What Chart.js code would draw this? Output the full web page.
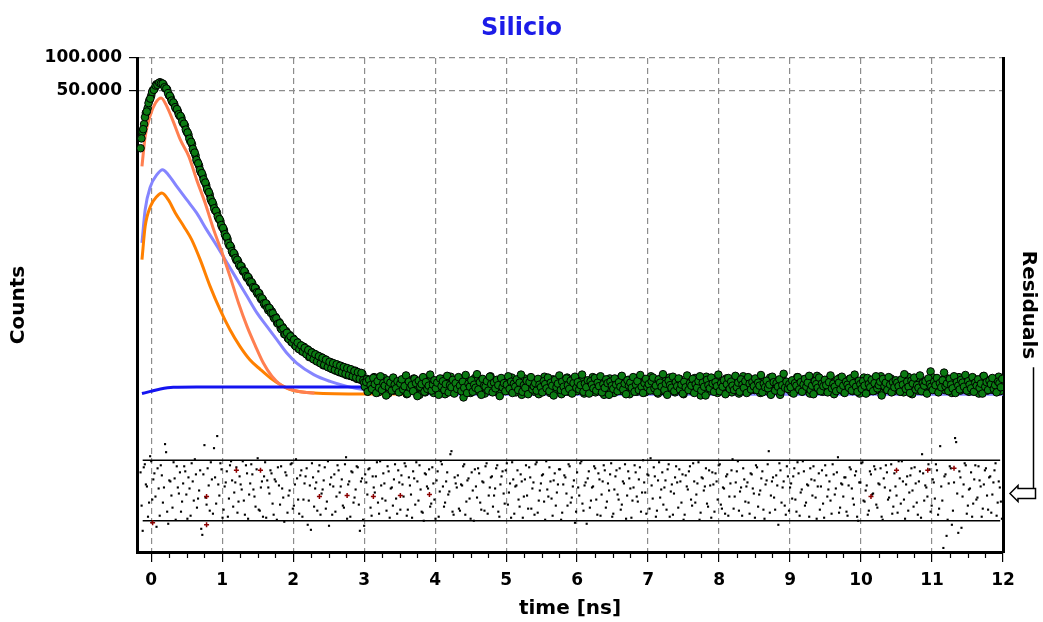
<!DOCTYPE html>
<html>
<head>
<meta charset="utf-8">
<title>Silicio</title>
<script src="https://cdn.jsdelivr.net/npm/chart.js@4"></script>
<style>
  html, body { margin: 0; padding: 0; background: #fff; }
  #wrap { width: 1043px; height: 622px; }
</style>
</head>
<body>
<div id="wrap"><canvas id="decayChart" width="1043" height="622"></canvas></div>
<script>
// ==========================================
// Silicio - fluorescence decay fit (Chart.js)
// ==========================================

// Axis ranges / ticks
const xTickValues = [0, 1, 2, 3, 4, 5, 6, 7, 8, 9, 10, 11, 12];
const xMinorStep = 0.25;
const xMin = -0.2;
const xMax = 12;
const yTickValues = [50000, 100000];
const yMin = 2.56;
const yMax = 100000;
const resMin = -6.1;
const resMax = 42.9;

// Measured counts, decay part: even channels (every 0.025 ns from -0.15 ns)
const decayStart = -0.15;
const decayStep = 0.025;
const decayCounts = [
  14500, 20600, 24300, 30900, 34200, 40700, 44600, 50300, 52200, 57100,
  57000, 59500, 58100, 56400, 52000, 50900, 45000, 42800, 38900, 37300,
  33700, 32100, 29000, 27900, 24800, 23600, 20600, 19400, 16900, 15800,
  13600, 12400, 10800, 9950, 8680, 8090, 7130, 6590, 5800, 5360,
  4660, 4350, 3830, 3660, 3210, 3050, 2680, 2510, 2190, 2080,
  1810, 1740, 1530, 1490, 1320, 1290, 1160, 1150, 1030, 1010,
  905, 900, 812, 801, 718, 722, 641, 645, 572, 566,
  507, 516, 452, 463, 441, 389, 392, 344, 351, 307,
  316, 271, 289, 249, 266, 229, 247, 213, 230, 199,
  214, 188, 207, 180, 196, 166, 186, 161, 178, 153,
  171, 147, 165, 139, 158, 151, 133, 149, 128, 144,
  124, 141, 120, 137, 117, 133, 113, 129, 111, 126,
  108, 124, 104, 119, 102, 116
];
// odd channels (half a step later)
const decayCountsOdd = [
  17900, 21800, 28200, 31800, 38100, 41900, 48300, 50600, 55400, 56300,
  58900, 57900, 57800, 53500, 52100, 47200, 44500, 40200, 38600, 34900,
  33500, 30000, 28900, 25800, 24500, 21600, 20300, 17800, 16600, 14300,
  13200, 11300, 10500, 9120, 8510, 7450, 6950, 6060, 5660, 4900,
  4570, 4010, 3800, 3370, 3180, 2800, 2630, 2300, 2180, 1900,
  1800, 1600, 1540, 1380, 1330, 1200, 1170, 1060, 1045, 940,
  925, 838, 825, 741, 731, 664, 658, 594, 583, 524,
  525, 474, 476, 426, 424, 378, 381, 339, 342, 300,
  306, 270, 279, 244, 259, 226, 241, 209, 226, 196,
  213, 186, 202, 176, 193, 167, 183, 158, 176, 151,
  169, 145, 163, 140, 157, 134, 150, 130, 146, 126,
  142, 122, 138, 119, 134, 116, 131, 113, 128, 110,
  123, 107, 120, 104, 118, 101
];

// Measured counts, background part: every 0.02 ns from 3 ns, plus the channels in between
const tailStart = 3.0;
const tailStep = 0.02;
const tailCounts = [
  96, 88, 104, 80, 91, 99, 83, 108, 87, 93, 78, 101, 89, 85, 106, 82, 94, 76, 98, 90, 103, 81, 87, 95, 84,
  79, 100, 92, 86, 107, 75, 89, 97, 83, 91, 105, 80, 94, 87, 74, 99, 85, 102, 78, 90, 96, 82, 106, 88, 77,
  93, 84, 101, 89, 80, 104, 86, 75, 95, 91, 82, 109, 87, 78, 98, 92, 84, 103, 81, 89, 70, 96, 85, 100, 90,
  77, 94, 88, 106, 83, 91, 79, 97, 86, 102, 76, 90, 95, 84, 110, 88, 80, 93, 99, 85, 76, 92, 104, 87, 82,
  98, 89, 81, 95, 107, 84, 90, 78, 101, 87, 93, 74, 89, 105, 83, 96, 80, 91, 86, 102, 79, 94, 88, 75, 99,
  85, 92, 109, 82, 89, 97, 77, 91, 103, 86, 81, 94, 88, 100, 75, 90, 96, 84, 107, 79, 92, 87, 101, 83, 89,
  80, 98, 91, 85, 104, 76, 93, 88, 82, 99, 90, 108, 84, 78, 95, 87, 102, 81, 91, 74, 97, 86, 92, 105, 83,
  89, 77, 100, 94, 86, 91, 108, 80, 88, 96, 83, 102, 75, 90, 98, 85, 93, 79, 106, 87, 82, 95, 89, 78, 101,
  92, 84, 110, 87, 81, 97, 90, 76, 103, 88, 94, 80, 99, 85, 91, 107, 82, 89, 96, 78, 93, 86, 104, 83, 90,
  75, 98, 89, 93, 84, 101, 80, 88, 106, 82, 95, 87, 73, 91, 100, 85, 109, 79, 92, 88, 97, 83, 90, 103, 77,
  94, 86, 91, 99, 81, 105, 88, 84, 96, 78, 92, 102, 85, 89, 76, 98, 90, 110, 83, 87, 95, 80, 101, 91, 86,
  82, 97, 89, 104, 77, 93, 88, 100, 84, 91, 79, 107, 86, 95, 81, 90, 98, 85, 74, 92, 102, 87, 89, 96, 83,
  91, 78, 99, 86, 94, 108, 82, 89, 97, 80, 103, 85, 92, 88, 76, 101, 90, 84, 95, 111, 81, 87, 93, 79, 98,
  86, 102, 89, 81, 96, 91, 75, 100, 87, 93, 106, 83, 90, 78, 97, 85, 92, 104, 88, 80, 94, 99, 82, 91, 76,
  95, 88, 107, 84, 90, 79, 98, 92, 85, 103, 81, 89, 96, 87, 110, 77, 93, 86, 100, 82, 91, 105, 88, 80, 94,
  89, 83, 97, 91, 102, 78, 86, 94, 109, 85, 90, 75, 99, 88, 92, 81, 104, 87, 95, 83, 79, 101, 90, 96, 122,
  92, 107, 84, 89, 80, 98, 93, 87, 102, 82, 96, 105, 88, 94, 77, 91, 100, 86, 89, 108, 81, 95, 92, 84, 103,
  87, 79, 96, 91, 106, 83, 98, 89, 76, 93, 85, 110, 90, 94, 81, 99, 88, 104, 82, 92, 97, 86, 109, 80, 91,
  95
];
const tailCountsOdd = [
  88, 97, 79, 102, 91, 84, 106, 93, 77, 99, 86, 110, 82, 95, 90, 73, 101, 87, 96, 81, 107, 92, 85, 99, 78,
  94, 103, 83, 89, 112, 76, 98, 86, 91, 80, 104, 95, 72, 100, 88, 93, 108, 79, 97, 84, 90, 114, 81, 92, 101,
  85, 96, 74, 105, 89, 99, 82, 93, 111, 78, 91, 87, 102, 76, 95, 84, 108, 90, 80, 98, 86, 113, 77, 94, 88,
  101, 79, 92, 86, 115, 83, 97, 74, 104, 90, 88, 99, 81, 109, 93, 78, 96, 85, 102, 91, 72, 106, 87, 95, 80,
  92, 110, 84, 98, 77, 94, 88, 103, 82, 96, 114, 79, 91, 86, 100, 75, 97, 108, 83, 89, 95, 81, 104, 92, 87,
  78, 99, 93, 85, 107, 80, 96, 90, 73, 102, 87, 94, 112, 82, 98, 88, 79, 105, 91, 84, 100, 76, 95, 109, 86,
  97, 83, 91, 114, 79, 94, 87, 101, 76, 99, 92, 85, 106, 81, 96, 89, 110, 78, 93, 86, 103, 95, 74, 98, 90,
  84, 105, 92, 80, 97, 88, 111, 83, 94, 75, 101, 90, 96, 86, 108, 79, 92, 99, 82, 113, 88, 77, 95, 104, 87,
  93, 81, 99, 107, 85, 90, 78, 103, 96, 88, 115, 82, 94, 74, 100, 91, 86, 109, 80, 97, 89, 105, 83, 92, 76,
  98, 87, 112, 82, 95, 90, 104, 77, 93, 86, 99, 110, 81, 96, 88, 73, 102, 91, 85, 107, 94, 79, 97, 89, 114,
  80, 95, 88, 101, 75, 93, 106, 84, 98, 90, 82, 111, 87, 96, 79, 103, 92, 86, 99, 77, 108, 94, 83, 97, 89,
  105, 82, 96, 90, 113, 78, 94, 87, 100, 85, 92, 74, 109, 97, 81, 95, 88, 103, 79, 91, 116, 86, 98, 84, 93,
  87, 101, 76, 95, 90, 108, 83, 97, 79, 92, 104, 88, 96, 111, 82, 90, 75, 99, 93, 86, 107, 80, 94, 89, 102,
  91, 78, 97, 112, 85, 94, 88, 80, 103, 96, 83, 109, 90, 77, 98, 92, 86, 105, 81, 95, 114, 88, 79, 100, 93,
  84, 99, 90, 76, 106, 93, 87, 102, 80, 95, 110, 85, 91, 98, 73, 104, 89, 96, 82, 108, 92, 78, 97, 87, 101,
  96, 89, 79, 103, 92, 115, 84, 98, 88, 77, 100, 94, 107, 83, 91, 86, 112, 80, 95, 90, 99, 76, 105, 93, 88,
  82, 98, 91, 106, 78, 95, 87, 101, 119, 89, 94, 80, 104, 92, 85, 110, 77, 97, 90, 83, 102, 96, 88, 113, 81,
  99, 92, 85, 108, 79, 96, 90, 103, 86, 94, 76, 111, 88, 97, 82, 100, 93, 106, 84, 91, 78, 98, 95, 87, 104
];

// Fit components
const coralTimes = [-0.13, -0.085, -0.01, 0.06, 0.14, 0.22, 0.31, 0.41, 0.53, 0.64, 0.76, 0.88, 1.0, 1.11, 1.23, 1.35, 1.47, 1.58, 1.70, 1.82, 1.96, 2.1, 2.3];
const coralCounts = [9830, 18670, 29700, 38200, 42500, 35500, 25750, 17400, 12180, 7400, 4490, 2540, 1540, 934, 528, 320, 209, 146, 110, 92, 83, 79, 77];

const orangeTimes = [-0.13, -0.085, -0.01, 0.08, 0.15, 0.24, 0.34, 0.46, 0.57, 0.69, 0.83, 0.97, 1.11, 1.25, 1.39, 1.54, 1.68, 1.82, 1.96, 2.29, 3.0, 3.65];
const orangeCounts = [1335, 2720, 4180, 5170, 5560, 4820, 3630, 2720, 2050, 1335, 754, 458, 298, 209, 157, 127, 106, 92, 83, 77, 75.4, 75.4];

const lavenderTimes = [-0.13, -0.085, -0.01, 0.08, 0.16, 0.24, 0.36, 0.50, 0.64, 0.78, 0.93, 1.07, 1.21, 1.35, 1.49, 1.63, 1.77, 1.91, 2.05, 2.29, 2.52, 2.76, 2.99, 3.5, 5, 8, 12];
const lavenderCounts = [1910, 3890, 6410, 8230, 9160, 8230, 6410, 4820, 3630, 2540, 1775, 1245, 871, 609, 427, 320, 241, 181, 146, 114, 98.6, 88.7, 82.7, 77, 75, 75, 75];

const blueTimes = [-0.13, -0.01, 0.13, 0.31, 0.64, 1.5, 3, 6, 9, 12];
const blueCounts = [76, 79.7, 83.9, 87, 87.6, 87.6, 87.3, 87.3, 87.3, 87.3];

// Weighted residuals: every 0.03 ns from -0.15 ns, plus the channels in between
const residualStart = -0.15;
const residualStep = 0.03;
const residuals = [
  1.8, -4.0, 2.6, 0.4, -1.2, 2.9, 1.1, -0.6, 2.2, -2.5, 1.5, 0.3, 3.8, -3.3, 0.9,
  -1.7, 1.2, 2.4, -0.3, -2.1, 0.7, 1.9, -2.8, 0.2, 2.7, -1.0, 1.6, -0.8, 2.0, -4.4,
  4.5, -1.4, 0.5, 2.8, -2.3, 1.3, 5.4, -0.5, 2.1, -1.9, 0.8, -2.6, 2.5, 1.0, -0.2,
  2.3, -1.1, 0.6, 2.9, -2.4, 1.7, -0.4, 2.6, 0.1, -1.6, 3.2, -2.0, 0.9, 1.4, -2.7,
  0.3, 2.0, -1.3, 1.1, -2.9, 0.5, 2.4, -0.7, 1.8, -2.2, 0.0, 2.7, -1.5, 3.1, -0.9,
  1.5, -2.6, 0.7, 2.2, -1.0, -3.9, 1.3, 0.2, -2.0, 2.5, -0.3, 1.0, -1.8, 2.9, 0.6,
  -2.4, 1.6, -0.6, 2.0, 0.4, -1.5, 2.6, -2.8, 0.9, 1.9, -1.2, 0.1, 2.3, -4.0, 1.2,
  -3.5, 0.8, 2.1, -1.7, 1.4, -0.2, 2.8, -2.3, 0.5, 1.7, -1.0, 2.4, -2.7, 0.3, 1.1,
  -0.8, 2.0, -1.9, 0.6, 2.7, -2.5, 1.3, -0.4, 1.9, -1.4, 0.9, 2.5, -2.1, -3.0, 1.6,
  0.2, -1.6, 2.3, -0.9, 1.0, -2.6, 2.9, 0.4, -1.2, 1.8, -0.1, 3.9, -2.4, 0.7, 1.5,
  -2.0, 0.5, 2.6, -1.1, 1.2, -2.8, 0.0, 2.1, -0.7, 1.7, -1.9, 0.8, 2.4, -2.3, 0.3,
  1.4, -0.5, 2.2, -2.1, 0.6, 1.9, -1.3, 2.7, -0.2, -2.7, 1.1, 0.4, 2.0, -1.6, 0.9,
  -0.6, 2.5, -1.8, 1.3, 0.2, -2.4, 2.8, -1.0, 0.7, 1.6, -2.9, 0.1, 2.3, -0.8, 1.0,
  -1.5, 0.6, 2.1, -2.2, 1.5, -0.3, 2.6, -1.2, 0.4, -3.2, 1.8, -0.5, 2.9, -2.0, 0.8,
  1.2, -1.7, 0.3, 2.4, -0.9, 1.7, -2.5, 0.9, 2.0, -1.1, 0.0, 2.7, -2.3, 1.4, -0.4,
  2.2, -1.4, 0.7, -2.8, 1.9, 0.2, -1.0, 2.5, -0.6, 1.1, -2.1, 3.0, -0.2, 1.6, -1.8,
  0.5, 2.3, -2.6, 1.0, -0.7, 1.8, 0.3, -1.9, 2.6, -0.1, -2.4, 1.3, 0.8, 2.1, -1.2,
  -2.9, 1.5, 0.1, 2.4, -1.5, 0.9, -0.4, 2.8, -2.2, 1.2, 0.4, -1.3, 2.0, -2.7, 0.6,
  1.7, -0.9, 2.6, -1.8, 0.2, 1.4, -2.5, 0.7, 3.1, -0.6, 1.9, -2.0, 0.3, 2.2, -1.1,
  0.8, -2.3, 1.6, -0.3, 2.5, -1.6, 0.0, 1.9, -2.8, 1.0, 3.9, -0.5, 1.3, -1.9, 0.5,
  2.7, -1.2, 0.9, -2.4, 1.4, 0.3, -0.8, 2.2, -2.1, 1.7, -0.2, 2.9, -1.5, 0.6, -2.6,
  1.1, 2.4, -0.7, 0.4, -1.9, 2.0, -2.7, 1.5, 0.1, -1.0, 2.6, -0.4, 1.8, -2.2, 0.7,
  -0.6, 1.3, -2.5, 2.3, 0.2, -1.4, 1.9, -3.0, 0.8, 2.8, -1.1, 0.5, -2.0, 1.6, -0.3,
  2.1, -1.7, 0.6, -2.6, 1.2, 2.5, -0.9, 0.0, -2.3, 1.7, -0.5, 2.9, -1.3, 0.9, -2.8,
  1.4, -0.2, 2.2, -1.6, 0.7, -2.4, 1.9, 3.6, -1.0, 0.3, 2.6, -2.1, 1.1, -0.8, 2.0,
  -1.8, 0.4, -5.7, 1.6, -2.9, 2.4, -3.4, 0.8, 4.8, -4.2, 1.3, -0.6, 2.7, -2.3, 0.1,
  1.8, -1.3, 2.5, -0.7, 1.0, -2.6, 0.6, 2.2, -1.9, 1.4, -0.4, 2.0, -2.5, 0.9, -1.1
];
const residualsOdd = [
  -1.5, 2.3, 0.6, -2.6, 3.4, -0.9, 1.7, -3.6, 0.2, 2.5, -1.2, 4.6, -2.1, 1.0, -0.5,
  2.8, -2.9, 0.3, 1.8, -1.1, 2.4, -0.4, 1.3, -2.5, 0.9, 3.1, -1.7, 0.0, -3.8, 1.6,
  -0.7, 2.2, -2.0, 1.1, 4.2, -1.3, 0.6, 2.7, -2.7, 0.4, 1.9, -0.8, 2.9, -1.6, 0.8,
  -2.2, 1.4, 0.1, -1.0, 2.5, -2.8, 0.7, 1.6, -0.6, 2.1, -1.9, 0.3, -2.6, 2.8, 1.0,
  -0.3, 1.7, -2.4, 0.9, 2.3, -1.4, 0.2, -3.1, 1.5, -0.5, 2.6, -1.8, 0.6, 1.2, -2.3,
  2.0, -0.9, 1.4, -3.4, 0.5, 2.7, -1.6, 0.8, 1.9, -2.4, 0.1, 2.3, -1.1, -3.5, 1.3,
  0.4, -2.1, 2.5, -0.2, 1.1, -1.7, 3.3, 0.6, -2.6, 1.8, -0.7, 2.4, -1.4, 0.9, -2.9,
  1.6, -0.4, 2.2, -2.5, 0.3, 1.4, -1.2, 2.9, -0.8, 0.7, -2.0, 1.9, 0.2, -1.5, 2.6,
  -2.3, 0.8, 1.5, -0.6, 2.4, -1.9, 0.5, -2.7, 1.2, 2.8, -1.0, 0.1, -2.2, 1.7, 0.4,
  2.1, -1.3, 0.7, -2.8, 1.9, -0.1, 2.6, -1.6, 0.9, -0.4, 3.6, -2.1, 1.3, 0.3, -1.8,
  0.6, 2.4, -2.4, 1.0, -0.8, 1.8, -3.0, 0.4, 2.2, -1.2, 0.9, -2.0, 2.7, -0.5, 1.3,
  -1.6, 0.2, 2.5, -2.6, 1.4, -0.3, 2.0, -1.4, 0.7, 2.8, -2.3, 0.5, -0.9, 1.6, -2.7,
  1.1, -0.5, 2.3, -1.8, 0.8, 2.6, -2.2, 0.0, 1.5, -1.1, 2.9, -0.6, 0.9, -2.5, 1.7,
  -0.2, 2.1, -2.9, 0.6, 1.3, -1.5, 2.4, -0.7, 1.0, -2.1, 0.3, 2.7, -1.3, 0.5, -3.3,
  1.9, -1.0, 0.4, 2.2, -2.4, 1.1, -0.4, 2.5, -1.7, 0.7, 1.6, -2.6, 0.1, 2.0, -0.9,
  -1.9, 0.9, 2.6, -0.5, 1.2, -2.7, 0.3, 1.8, -1.1, 2.3, -0.2, 0.8, -2.3, 1.5, 3.2,
  -0.8, 1.4, -2.0, 2.8, 0.1, -1.4, 1.0, 2.1, -2.6, 0.6, -0.3, 2.4, -1.7, 0.9, 1.6,
  -2.4, 0.4, 1.9, -0.9, 2.7, -1.2, 0.7, -2.9, 1.3, 0.0, 2.2, -1.6, 0.5, 1.8, -2.1,
  0.9, 2.5, -1.4, 0.3, -2.3, 1.6, -0.6, 2.0, -1.8, 0.8, 2.9, -0.1, -2.5, 1.1, 0.4,
  -1.2, 1.7, 0.2, -2.7, 2.3, -0.4, 1.2, -1.9, 0.6, 2.6, -2.2, 0.9, -0.7, 1.5, -3.4,
  2.0, 0.3, -1.5, 2.4, -2.0, 0.7, 1.4, -0.9, 2.8, -2.5, 0.1, 1.9, -1.2, 0.5, 2.2,
  -0.5, 1.0, -2.8, 1.7, 0.4, -1.3, 2.5, -0.6, 0.9, -2.3, 1.6, 0.2, 3.3, -1.7, 0.6,
  1.3, -2.1, 0.5, 2.1, -0.8, 1.5, -2.6, 0.8, 2.7, -1.0, 0.0, -2.4, 1.9, -0.4, 2.4,
  -1.4, 0.7, 2.2, -2.9, 0.3, 1.8, -0.7, 2.6, -1.6, 0.4, -2.2, 1.2, 2.9, -0.9, 0.6,
  -2.0, 1.5, 0.0, 2.3, -1.2, 0.9, -2.7, 1.7, 0.5, -0.6, 2.1, -1.5, 0.8, 2.6, -2.4,
  4.4, -1.0, 1.4, -4.5, 0.7, 2.2, -2.0, 5.2, -0.3, 1.9, -3.7, 0.6, 2.5, -1.5, 0.2,
  -2.6, 1.1, -0.9, 2.4, 0.4, -1.8, 2.0, -0.5, 1.3, -2.2, 0.8, 2.7, -1.2, 0.3, -2.8
];

// A few residuals flagged in dark red
const flaggedTimes = [0.02, 0.78, 0.78, 1.20, 1.54, 2.37, 2.76, 3.13, 3.51, 3.92, 10.14, 10.5, 10.94, 11.31];
const flaggedValues = [-3.2, -0.6, -3.4, 2.0, 2.0, -0.6, -0.5, -0.6, -0.5, -0.4, -0.6, 2.0, 2.0, 2.2];

// Residual band limits
const residualLimit = 3;
const residualBandFrom = -0.12;
const residualBandTo = 11.96;

// ==========================================
// Helpers
// ==========================================
const FONT = "'DejaVu Sans', 'Liberation Sans', sans-serif";

const pairs = (xs, ys) => xs.map((x, i) => ({ x, y: ys[i] }));
const channels = (start, step, values) => values.map((v, i) => ({ x: start + i * step, y: v }));

function formatCounts(v) {
  return String(Math.round(v)).replace(/\B(?=(\d{3})+(?!\d))/g, '.');
}

const measured = [].concat(
  channels(decayStart, decayStep, decayCounts),
  channels(decayStart + decayStep / 2, decayStep, decayCountsOdd),
  channels(tailStart, tailStep, tailCounts),
  channels(tailStart + tailStep / 2, tailStep, tailCountsOdd)
);
const residualPoints = [].concat(
  channels(residualStart, residualStep, residuals),
  channels(residualStart + residualStep / 2, residualStep, residualsOdd)
);

// minor x ticks + "Residuals" arrow
const decorPlugin = {
  id: 'decor',
  afterDraw(chart) {
    const { ctx, chartArea, scales } = chart;
    const xs = scales.x;
    ctx.save();

    // minor ticks below the time axis
    ctx.strokeStyle = '#000';
    ctx.lineWidth = 1.2;
    ctx.beginPath();
    for (let v = xTickValues[0]; v <= xTickValues[xTickValues.length - 1]; v += xMinorStep) {
      if (Number.isInteger(v)) continue;
      const px = Math.round(xs.getPixelForValue(v)) + 0.5;
      ctx.moveTo(px, chartArea.bottom + 1);
      ctx.lineTo(px, chartArea.bottom + 6);
    }
    ctx.stroke();

    // line + hollow arrow pointing at the residual panel
    const yr = scales.yRes;
    const yArrow = Math.round(yr.getPixelForValue(0)) + 2.5;
    const xLine = chart.width - 9.5;
    const midY = (chartArea.top + chartArea.bottom) / 2;
    ctx.font = 'bold 20px ' + FONT;
    const labelHalf = ctx.measureText('Residuals').width / 2;

    ctx.lineWidth = 1.5;
    ctx.beginPath();
    ctx.moveTo(xLine, midY + labelHalf + 8);
    ctx.lineTo(xLine, yArrow - 5);
    ctx.stroke();

    const tip = chartArea.right + 7;
    ctx.beginPath();
    ctx.moveTo(tip, yArrow);
    ctx.lineTo(tip + 8, yArrow - 8);
    ctx.lineTo(tip + 8, yArrow - 5);
    ctx.lineTo(xLine + 2, yArrow - 5);
    ctx.lineTo(xLine + 2, yArrow + 5);
    ctx.lineTo(tip + 8, yArrow + 5);
    ctx.lineTo(tip + 8, yArrow + 8);
    ctx.closePath();
    ctx.fillStyle = '#fff';
    ctx.fill();
    ctx.stroke();

    ctx.restore();
  }
};

// ==========================================
// Chart
// ==========================================
const gridStyle = { color: '#8c8c8c', lineWidth: 1.2, tickColor: '#000', tickWidth: 1.2, tickLength: 10 };
const borderStyle = { color: '#000', width: 3, dash: [6, 4] };
const tickFont = { family: FONT, size: 17, weight: 'bold' };
const titleFont = { family: FONT, size: 20, weight: 'bold' };

const lineSet = (label, data, color) => ({
  label, data,
  borderColor: color,
  backgroundColor: color,
  borderWidth: 3,
  pointRadius: 0,
  showLine: true,
  cubicInterpolationMode: 'monotone',
  yAxisID: 'y'
});

new Chart(document.getElementById('decayChart'), {
  type: 'scatter',
  data: {
    datasets: [
      {
        label: 'flagged',
        data: pairs(flaggedTimes, flaggedValues),
        yAxisID: 'yRes',
        pointStyle: 'cross',
        pointRadius: 2.5,
        borderWidth: 1.5,
        borderColor: '#8b0000'
      },
      {
        label: 'Residuals',
        data: residualPoints,
        yAxisID: 'yRes',
        pointStyle: 'rect',
        pointRadius: 1.5,
        borderWidth: 0,
        backgroundColor: '#000'
      },
      {
        label: '+3',
        data: [{ x: residualBandFrom, y: residualLimit }, { x: residualBandTo, y: residualLimit }],
        yAxisID: 'yRes', showLine: true, pointRadius: 0, borderColor: '#000', borderWidth: 1.5
      },
      {
        label: '-3',
        data: [{ x: residualBandFrom, y: -residualLimit }, { x: residualBandTo, y: -residualLimit }],
        yAxisID: 'yRes', showLine: true, pointRadius: 0, borderColor: '#000', borderWidth: 1.5
      },
      {
        label: 'Counts',
        data: measured,
        yAxisID: 'y',
        pointRadius: 3.8,
        borderWidth: 1,
        borderColor: '#000',
        backgroundColor: '#0b7a12'
      },
      lineSet('blue', pairs(blueTimes, blueCounts), '#1414f0'),
      lineSet('coral', pairs(coralTimes, coralCounts), '#ff7f50'),
      lineSet('orange', pairs(orangeTimes, orangeCounts), '#ff8000'),
      lineSet('lavender', pairs(lavenderTimes, lavenderCounts), '#8585ff')
    ]
  },
  options: {
    responsive: false,
    animation: false,
    devicePixelRatio: 1,
    layout: { padding: 0 },
    plugins: {
      legend: { display: false },
      tooltip: { enabled: false },
      title: {
        display: true,
        text: 'Silicio',
        color: '#1c1ce8',
        font: { family: FONT, size: 24, weight: 'bold' },
        padding: { top: 14, bottom: 15.2 }
      }
    },
    scales: {
      x: {
        type: 'linear',
        position: 'bottom',
        min: xMin,
        max: xMax,
        afterBuildTicks: s => { s.ticks = xTickValues.map(v => ({ value: v })); },
        afterFit: s => { s.height = 70; },
        grid: gridStyle,
        border: borderStyle,
        ticks: { color: '#000', font: tickFont, padding: 8, maxRotation: 0, autoSkip: false },
        title: { display: true, text: 'time [ns]', color: '#000', font: titleFont, padding: { top: 0, bottom: 1 } }
      },
      y: {
        type: 'logarithmic',
        position: 'left',
        min: yMin,
        max: yMax,
        afterBuildTicks: s => { s.ticks = yTickValues.map(v => ({ value: v })); },
        afterFit: s => { s.width = 137; },
        grid: Object.assign({}, gridStyle, { tickLength: 8 }),
        border: borderStyle,
        ticks: { color: '#000', font: tickFont, padding: 7, callback: v => formatCounts(v) },
        title: { display: true, text: 'Counts', color: '#000', font: titleFont, padding: { top: 7, bottom: 0 } }
      },
      yRes: {
        type: 'linear',
        position: 'right',
        min: resMin,
        max: resMax,
        afterFit: s => { s.width = 40; },
        grid: { display: false },
        border: { color: '#000', width: 3 },
        ticks: { display: false },
        title: { display: true, text: 'Residuals', color: '#000', font: titleFont, padding: { top: 3, bottom: 0 } }
      }
    }
  },
  plugins: [decorPlugin]
});
</script>
</body>
</html>
